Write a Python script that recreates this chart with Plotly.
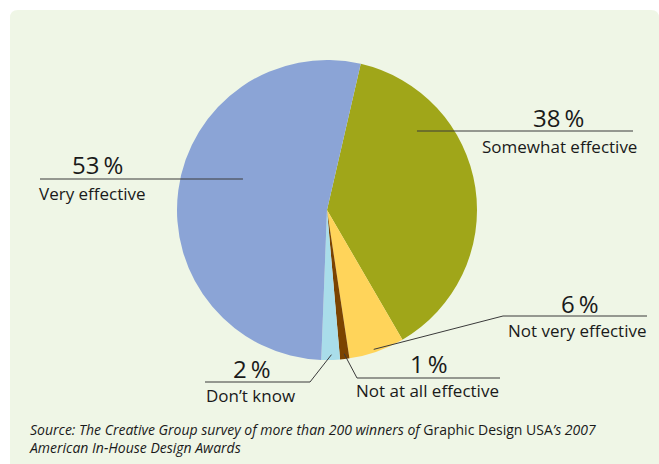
import math
import plotly.graph_objects as go

# Survey answers, in clockwise order starting just right of 12 o'clock
categories = ["Somewhat effective", "Not very effective", "Not at all effective",
              "Don't know", "Very effective"]
shares = [38, 6, 1, 2, 53]
pct_labels = ["38\u2009%", "6\u2009%", "1\u2009%", "2\u2009%", "53\u2009%"]
colors = ["#A0A619", "#FFD45A", "#7B4300", "#A9DDEA", "#8BA4D6"]

W, H = 659, 464
CX, CY, R = 327, 210, 150          # pie centre and radius in pixels
ROTATION = 13                      # start angle of first slice, degrees clockwise

BG = "#EFF6E6"
INK = "#1A1A1A"
LINE = "#3A3A3A"
FONT = "Open Sans"


def px(x):
    return x / W


def py(y):
    return 1 - y / H


def slice_point(i, frac, rfrac):
    """Pixel position inside slice i: frac along its arc, rfrac of the radius."""
    total = sum(shares)
    start = ROTATION + 360 * sum(shares[:i]) / total
    span = 360 * shares[i] / total
    a = math.radians(start + frac * span)
    return CX + rfrac * R * math.sin(a), CY - rfrac * R * math.cos(a)


fig = go.Figure(go.Pie(
    labels=categories,
    values=shares,
    sort=False,
    direction="clockwise",
    rotation=ROTATION,
    marker=dict(colors=colors, line=dict(width=0)),
    textinfo="none",
    hoverinfo="label+percent",
    showlegend=False,
    domain=dict(x=[px(CX - R), px(CX + R)], y=[py(CY + R), py(CY - R)]),
))

shapes = []
# light green rounded panel behind everything
rc = 8
panel = (f"M {px(10)},{py(10 + rc)} Q {px(10)},{py(10)} {px(10 + rc)},{py(10)} "
         f"L {px(W - rc)},{py(10)} Q {px(W)},{py(10)} {px(W)},{py(10 + rc)} "
         f"L {px(W)},{py(H)} L {px(10)},{py(H)} Z")
shapes.append(dict(type="path", path=panel, xref="paper", yref="paper",
                   fillcolor=BG, line=dict(width=0), layer="below"))

# label layout per slice: anchor inside slice, rule line y and extent, text spots
label_layout = [
    # idx, (frac, rfrac), rule_y, rule_x0, rule_x1, pct_xy, name_xy, name_anchor
    (0, (0.26, 0.80), 131, None, 633, (558, 117), (639, 146), "right"),
    (1, (0.54, 0.98), 316, 503, 647, (580, 303), (648, 330), "right"),
    (2, (0.50, 0.965), 378, 357, 500, (429, 363), (354, 390), "left"),
    (3, (0.45, 0.965), 382, 205, 310, (252, 368), (204, 395), "left"),
    (4, (0.57, 0.60), 179, 40, None, (97, 164), (37, 193), "left"),
]

annotations = []
for idx, (fr, rf), ry, x0, x1, pxy, nxy, nanc in label_layout:
    ax, ay = slice_point(idx, fr, rf)
    if idx in (0, 4):
        # horizontal rule running straight into the slice
        xa = ax if x0 is None else x0
        xb = ax if x1 is None else x1
        shapes.append(dict(type="line", xref="paper", yref="paper",
                           x0=px(xa), y0=py(ry), x1=px(xb), y1=py(ry),
                           line=dict(color=LINE, width=1)))
    else:
        elbow = x0 if idx in (1, 2) else x1
        shapes.append(dict(type="line", xref="paper", yref="paper",
                           x0=px(ax), y0=py(ay), x1=px(elbow), y1=py(ry),
                           line=dict(color=LINE, width=1)))
        shapes.append(dict(type="line", xref="paper", yref="paper",
                           x0=px(x0), y0=py(ry), x1=px(x1), y1=py(ry),
                           line=dict(color=LINE, width=1)))
    annotations.append(dict(text=pct_labels[idx], x=px(pxy[0]), y=py(pxy[1]),
                            xref="paper", yref="paper", xanchor="center",
                            yanchor="middle", showarrow=False,
                            font=dict(family=FONT, size=24, color=INK)))
    annotations.append(dict(text=categories[idx].replace("'", "\u2019"),
                            x=px(nxy[0]), y=py(nxy[1]),
                            xref="paper", yref="paper", xanchor=nanc,
                            yanchor="middle", showarrow=False,
                            font=dict(family=FONT, size=17, color=INK)))

source_text = ("<i>Source: The Creative Group survey of more than 200 winners of</i> "
               "Graphic Design USA<i>\u2019s 2007<br>American In-House Design Awards</i>")
annotations.append(dict(text=source_text, x=px(27), y=py(418), xref="paper",
                        yref="paper", xanchor="left", yanchor="top", align="left",
                        showarrow=False,
                        font=dict(family=FONT, size=14, color=INK)))

fig.update_layout(
    width=W, height=H,
    margin=dict(l=0, r=0, t=0, b=0),
    paper_bgcolor="white",
    plot_bgcolor="white",
    shapes=shapes,
    annotations=annotations,
)

fig.write_html("out.html")
